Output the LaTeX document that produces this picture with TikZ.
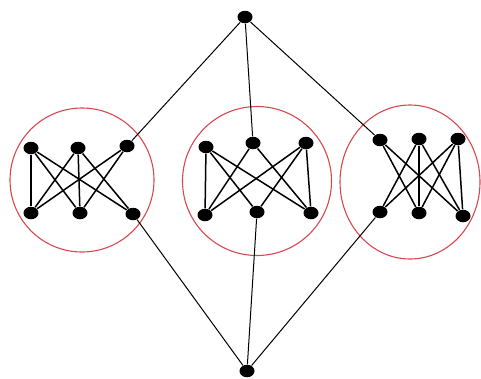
\documentclass[tikz,border=0pt]{standalone}
\usetikzlibrary{shapes.geometric}
\definecolor{ring}{HTML}{D9474F}
\tikzset{
  every picture/.style={line width=0.9pt},
  dot/.style={ellipse, fill=black, inner sep=0pt, minimum width=15pt, minimum height=12.5pt},
  ringline/.style={draw=ring, line width=1.1pt},
  link/.style={draw=black, line width=1.5pt},
  spoke/.style={draw=black, line width=1pt},
}
\begin{document}
\begin{tikzpicture}[x=1pt, y=-1pt]
  \useasboundingbox (0,0) rectangle (481,378);
  % rings
  \draw[ringline] (82,180) circle [radius=72];
  \draw[ringline] (257,181) circle [radius=74.5];
  \draw[ringline] (410,182) ellipse [x radius=70, y radius=77];
  % hub nodes
  \node[dot] (top) at (245,17) {};
  \node[dot] (bot) at (247,371) {};
  % left group
  \node[dot] (lt1) at (31,148) {};
  \node[dot] (lt2) at (78,148) {};
  \node[dot] (lt3) at (127,146) {};
  \node[dot] (lb1) at (31,213) {};
  \node[dot] (lb2) at (80,213) {};
  \node[dot] (lb3) at (133,214) {};
  % middle group
  \node[dot] (mt1) at (206,147) {};
  \node[dot] (mt2) at (253,143) {};
  \node[dot] (mt3) at (306,143) {};
  \node[dot] (mb1) at (205,215) {};
  \node[dot] (mb2) at (257,212) {};
  \node[dot] (mb3) at (311,213) {};
  % right group
  \node[dot] (rt1) at (380,140) {};
  \node[dot] (rt2) at (419,139) {};
  \node[dot] (rt3) at (458,139) {};
  \node[dot] (rb1) at (380,212) {};
  \node[dot] (rb2) at (419,213) {};
  \node[dot] (rb3) at (463,216) {};
  % inner edges
  \foreach \a/\b in {lt1/lb1, lt1/lb2, lt1/lb3, lt2/lb1, lt2/lb2, lt2/lb3, lt3/lb1, lt3/lb2,
                     mt1/mb1, mt1/mb2, mt1/mb3, mt2/mb1, mt2/mb3, mt3/mb1, mt3/mb2, mt3/mb3,
                     rt1/rb2, rt1/rb3, rt2/rb1, rt2/rb2, rt2/rb3, rt3/rb1, rt3/rb2, rt3/rb3}
    \draw[link] (\a) -- (\b);
  % edges to the hubs
  \foreach \a in {lt3, mt2, rt1} \draw[spoke] (top) -- (\a);
  \foreach \a in {lb3, mb2, rb1} \draw[spoke] (bot) -- (\a);
\end{tikzpicture}
\end{document}
